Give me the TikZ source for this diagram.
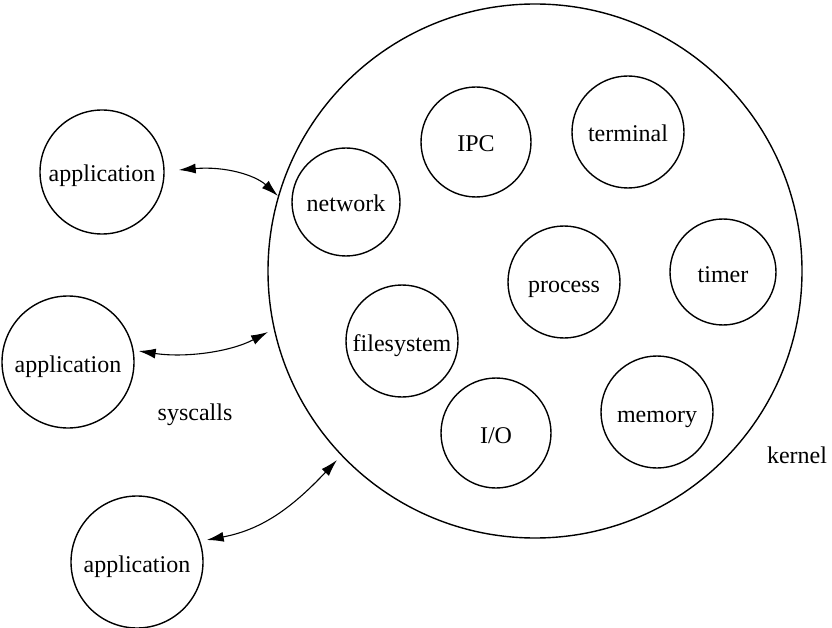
\documentclass[tikz,border=0pt]{standalone}
\usepackage{fontspec}
\setmainfont{Liberation Serif}
\usetikzlibrary{arrows.meta}
\begin{document}
\begin{tikzpicture}[x=1pt,y=-1pt,
  circ/.style={draw,circle,line width=1.4pt,inner sep=0pt,text height=22pt,text depth=2pt},
  lbl/.style={font=\fontsize{24}{28}\selectfont},
  conn/.style={line width=1.1pt,{Latex[length=17pt,width=10pt]}-{Latex[length=17pt,width=10pt]}}]
\useasboundingbox (0,0) rectangle (832,628);
\node[circ,minimum size=534pt] (kernel) at (535,271) {};
\node[circ,minimum size=124pt,lbl] (app1) at (102,172) {application};
\node[circ,minimum size=132pt,lbl] (app2) at (68,362) {application};
\node[circ,minimum size=132pt,lbl] (app3) at (137,562) {application};
\node[circ,minimum size=110pt,lbl] (ipc) at (476,142) {IPC};
\node[circ,minimum size=112pt,lbl] (term) at (628,132) {terminal};
\node[circ,minimum size=108pt,lbl] (net) at (346,202) {network};
\node[circ,minimum size=112pt,lbl] (proc) at (564,282) {process};
\node[circ,minimum size=106pt,lbl] (timer) at (723,272) {timer};
\node[circ,minimum size=112pt,lbl] (fs) at (402,341) {filesystem};
\node[circ,minimum size=110pt,lbl] (io) at (496,433) {I/O};
\node[circ,minimum size=112pt,lbl] (mem) at (657,412) {memory};
\node[lbl] (sys) at (195,415) {syscalls};
\node[lbl] (kl) at (797,455) {kernel};
\coordinate (k1) at (278,196);
\coordinate (k2) at (268,332);
\coordinate (k3) at (337,460);
\draw[conn] (app1.east) ++(14,-2) .. controls (225,166) and (255,175) .. (k1);
\draw[conn] (app2.east) ++(4,-11) .. controls (185,358) and (230,352) .. (k2);
\draw[conn] (app3.east) ++(3,-22) .. controls (260,530) and (290,510) .. (k3);
\end{tikzpicture}
\end{document}
